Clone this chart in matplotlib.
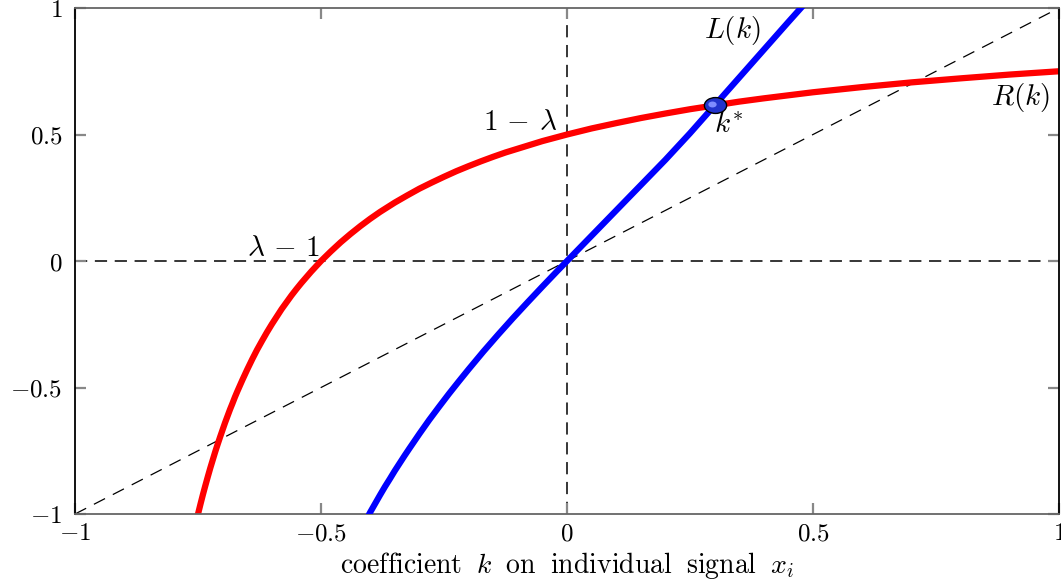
"""
Best-response curves L(k) and R(k) and the fixed point k*.
"""

import matplotlib
matplotlib.use("Agg")
import matplotlib.pyplot as plt
from matplotlib.path import Path
from matplotlib.transforms import Affine2D, offset_copy

# ---- data ----
k_red = [-0.752, -0.745, -0.74, -0.735, -0.73, -0.725, -0.72, -0.715, -0.71,
         -0.705, -0.70, -0.695, -0.69, -0.685, -0.68, -0.675, -0.67, -0.66,
         -0.65, -0.64, -0.63, -0.62, -0.61, -0.60, -0.59, -0.58, -0.57,
         -0.56, -0.55, -0.54, -0.52, -0.50, -0.48, -0.46, -0.44, -0.42,
         -0.40, -0.38, -0.35, -0.325, -0.30, -0.275, -0.25, -0.225, -0.20,
         -0.175, -0.15, -0.125, -0.10, -0.075, -0.05, -0.025, 0.0, 0.05,
         0.10, 0.15, 0.20, 0.25, 0.30, 0.35, 0.40, 0.45, 0.50, 0.60, 0.70,
         0.80, 0.90, 1.0]
R_red = [-1.016, -0.961, -0.923, -0.887, -0.852, -0.818, -0.786, -0.754,
         -0.724, -0.695, -0.667, -0.639, -0.613, -0.587, -0.563, -0.538,
         -0.515, -0.471, -0.429, -0.389, -0.351, -0.316, -0.282, -0.25,
         -0.220, -0.190, -0.163, -0.136, -0.111, -0.087, -0.042, 0.0, 0.038,
         0.074, 0.107, 0.138, 0.167, 0.194, 0.231, 0.259, 0.286, 0.310,
         0.333, 0.355, 0.375, 0.394, 0.412, 0.429, 0.444, 0.459, 0.474,
         0.487, 0.5, 0.524, 0.545, 0.565, 0.583, 0.6, 0.615, 0.630, 0.643,
         0.655, 0.667, 0.6875, 0.706, 0.722, 0.737, 0.75]

k_blue = [-0.406, -0.40, -0.39, -0.38, -0.37, -0.36, -0.35, -0.34, -0.33,
          -0.32, -0.30, -0.28, -0.26, -0.24, -0.22, -0.20, -0.17, -0.14,
          -0.11, -0.08, -0.05, -0.02, 0.0, 0.05, 0.10, 0.15, 0.20, 0.25,
          0.30, 0.35, 0.40, 0.45, 0.48]
L_blue = [-1.015, -0.993, -0.959, -0.925, -0.892, -0.861, -0.829, -0.799,
          -0.769, -0.740, -0.683, -0.628, -0.576, -0.525, -0.476, -0.428,
          -0.358, -0.291, -0.226, -0.163, -0.101, -0.040, 0.0, 0.10, 0.20,
          0.30, 0.40, 0.505, 0.615, 0.725, 0.835, 0.945, 1.01]

k_star = 0.3
y_star = 0.615

ticks = [-1, -0.5, 0, 0.5, 1]
tick_labels = ["$-1$", "$-0.5$", "$0$", "$0.5$", "$1$"]

plt.rcParams["mathtext.fontset"] = "cm"
plt.rcParams["font.family"] = "serif"
plt.rcParams["font.serif"] = ["DejaVu Serif"]

fig = plt.figure(figsize=(10.61, 5.81), dpi=100)
ax = fig.add_axes([0.0707, 0.1153, 0.9274, 0.8709])

# reference lines
ax.axhline(0, color="black", lw=1.1, dashes=(8, 5), zorder=1)
ax.axvline(0, color="black", lw=1.1, dashes=(8, 5), zorder=1)
ax.plot([-1, 1], [-1, 1], color="black", lw=0.9, dashes=(10, 7), zorder=1)

# curves
ax.plot(k_red, R_red, color="#ff0000", lw=4.5, solid_capstyle="butt",
        solid_joinstyle="round", zorder=2)
ax.plot(k_blue, L_blue, color="#0000ff", lw=4.5, solid_capstyle="butt",
        solid_joinstyle="round", zorder=3)

# fixed point, drawn as a slightly wide ball
ball = Path.unit_circle().transformed(Affine2D().scale(1.4, 1.0))
ax.plot([k_star], [y_star], marker=ball, ms=16, mfc="#2233cc", mec="black",
        mew=1.0, zorder=5)
hl = offset_copy(ax.transData, fig=fig, x=-2.5, y=1.5, units="dots")
ax.plot([k_star], [y_star], marker=ball, ms=6, mfc="#7f8cff", mec="none",
        transform=hl, zorder=6)

# labels
txt = dict(fontsize=21, color="black")
ax.text(0.337, 0.913, "$L(k)$", ha="center", va="center", **txt)
ax.text(0.921, 0.648, "$R(k)$", ha="center", va="center", **txt)
ax.text(0.329, 0.538, "$k^{*}$", ha="center", va="center", **txt)
ax.text(-0.02, 0.549, r"$1\,-\,\lambda$", ha="right", va="center", **txt)
ax.text(-0.577, 0.051, r"$\lambda\,-\,1$", ha="center", va="center", **txt)

ax.set_xlim(-1, 1)
ax.set_ylim(-1, 1)
ax.set_xticks(ticks)
ax.set_xticklabels(tick_labels)
ax.set_yticks(ticks)
ax.set_yticklabels(tick_labels)
ax.tick_params(direction="in", length=8, width=1.6, color="#888888",
               top=True, right=True, labelsize=18, pad=6)
ax.tick_params(axis="y", pad=9)

ax.set_xlabel(r"$\mathrm{coefficient}\ \;k\ \;\mathrm{on}\ \;\mathrm{individual}"
              r"\ \;\mathrm{signal}\ \;x_i$", fontsize=20, labelpad=3)

for side in ["left", "right"]:
    ax.spines[side].set_color("black")
    ax.spines[side].set_linewidth(1.3)
for side in ["top", "bottom"]:
    ax.spines[side].set_color("#666666")
    ax.spines[side].set_linewidth(1.3)

fig.savefig("out.png", dpi=100)
